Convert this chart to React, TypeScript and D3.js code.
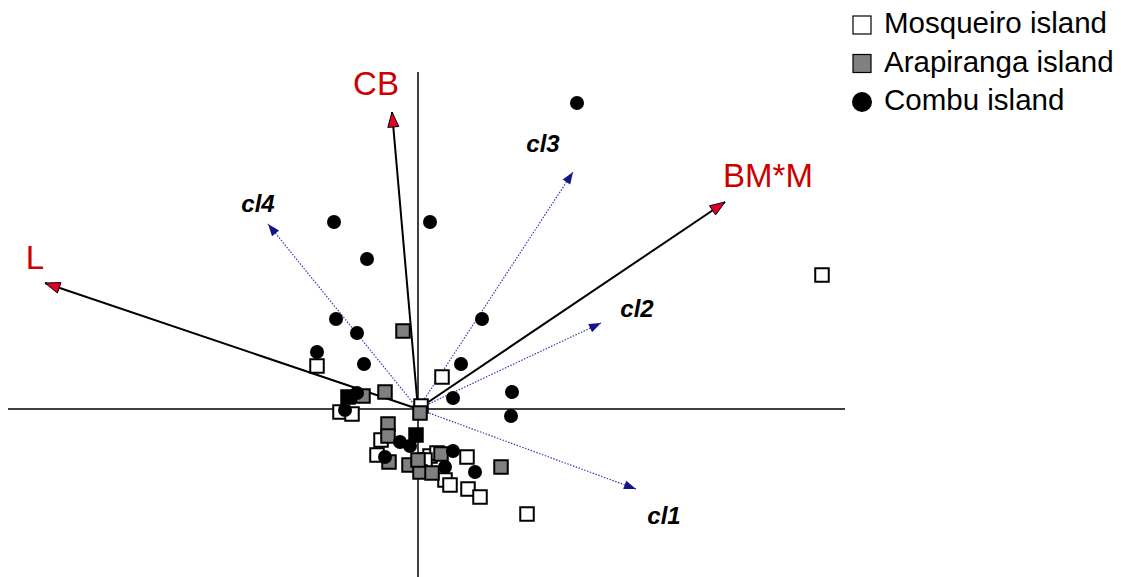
import * as d3 from 'd3';

// biplot scores (axis units)
const mosqueiroX = [4.04, -1.01, 0.24, -0.78, -0.66, -0.37, -0.41, 0.12, 0.19, 0.49, 0.27, 0.32, 0.50, 0.62, 1.09, 0.07, 0.03];
const mosqueiroY = [1.34, 0.43, 0.32, -0.03, -0.05, -0.31, -0.46, -0.47, -0.44, -0.48, -0.71, -0.76, -0.80, -0.88, -1.05, -0.51, 0.03];

const arapirangaX = [-0.15, -0.33, -0.55, 0.02, -0.30, -0.30, -0.29, -0.09, 0.02, 0.14, 0.00, 0.23, 0.83];
const arapirangaY = [0.78, 0.17, 0.13, -0.04, -0.15, -0.27, -0.53, -0.56, -0.63, -0.64, -0.51, -0.45, -0.58];

const combuX = [1.59, -0.84, 0.12, -0.51, -0.82, -0.61, 0.64, -1.01, -0.54, 0.43, 0.94, 0.35, 0.93, -0.61, -0.73, -0.18, -0.08, -0.33, 0.35, 0.27, 0.57];
const combuY = [3.06, 1.87, 1.87, 1.50, 0.90, 0.76, 0.90, 0.57, 0.45, 0.45, 0.17, 0.11, -0.07, 0.16, -0.01, -0.33, -0.37, -0.48, -0.42, -0.58, -0.63];

// overlapping points that show as solid black squares
const darkX = [-0.70, -0.02];
const darkY = [0.12, -0.26];

// environmental vectors
const varNames = ['CB', 'L', 'BM*M'];
const varX = [-0.26, -3.73, 3.07];
const varY = [2.97, 1.26, 2.07];

// class vectors
const clNames = ['cl1', 'cl2', 'cl3', 'cl4'];
const clX = [2.18, 1.83, 1.55, -1.50];
const clY = [-0.80, 0.86, 2.37, 1.85];

const legendNames = ['Mosqueiro island', 'Arapiranga island', 'Combu island'];

const W = 1121;
const H = 577;

const x = d3.scaleLinear().domain([-4.1, 4.27]).range([8, 845]);
const y = d3.scaleLinear().domain([-1.68, 3.37]).range([577, 72]);

const varLabelOffset: Record<string, [number, number]> = {
  'CB': [-16, -17],
  'L': [-10, -14],
  'BM*M': [43, -15],
};
const clLabelOffset: Record<string, [number, number]> = {
  cl1: [28, 35],
  cl2: [36, -6],
  cl3: [-30, -20],
  cl4: [-10, -12],
};

function head(x0: number, y0: number, x1: number, y1: number, len: number, half: number) {
  const a = Math.atan2(y1 - y0, x1 - x0);
  const bx = x1 - len * Math.cos(a);
  const by = y1 - len * Math.sin(a);
  const px = -Math.sin(a) * half;
  const py = Math.cos(a) * half;
  return `M${x1},${y1}L${bx + px},${by + py}L${bx - px},${by - py}Z`;
}

function Square({ cx, cy, fill }: { cx: number; cy: number; fill: string }) {
  const s = 13.5;
  return <rect x={cx - s / 2} y={cy - s / 2} width={s} height={s} fill={fill} stroke="#000" strokeWidth={2} />;
}

export default function App() {
  const ox = x(0);
  const oy = y(0);
  const font = '"Liberation Sans", Arial, Helvetica, sans-serif';

  return (
    <svg width={W} height={H} style={{ position: 'absolute', left: 0, top: 0, background: '#fff' }} fontFamily={font}>
      {/* axes */}
      <line x1={x(0)} x2={x(0)} y1={y.range()[1]} y2={y.range()[0]} stroke="#000" strokeWidth={1.5} />
      <line x1={x.range()[0]} x2={x.range()[1]} y1={y(0)} y2={y(0)} stroke="#000" strokeWidth={1.5} />

      {/* class vectors */}
      {clNames.map((n, i) => {
        const tx = x(clX[i]);
        const ty = y(clY[i]);
        const off = clLabelOffset[n];
        return (
          <g key={n}>
            <line x1={ox} y1={oy} x2={tx} y2={ty} stroke="#3a3ab0" strokeWidth={1.2} strokeDasharray="1.5,1.5" />
            <path d={head(ox, oy, tx, ty, 12, 4.5)} fill="#15158a" />
            <text x={tx + off[0]} y={ty + off[1]} textAnchor="middle" fontSize={24} fontWeight="bold" fontStyle="italic" fill="#000">{n}</text>
          </g>
        );
      })}

      {/* environmental vectors */}
      {varNames.map((n, i) => {
        const tx = x(varX[i]);
        const ty = y(varY[i]);
        const off = varLabelOffset[n];
        return (
          <g key={n}>
            <line x1={ox} y1={oy} x2={tx} y2={ty} stroke="#000" strokeWidth={2} />
            <path d={head(ox, oy, tx, ty, 15, 5.5)} fill="#e0002a" stroke="#000" strokeWidth={1} />
            <text x={tx + off[0]} y={ty + off[1]} textAnchor="middle" fontSize={33} fill="#cc0000">{n}</text>
          </g>
        );
      })}

      {/* points */}
      {mosqueiroX.map((v, i) => <Square key={'m' + i} cx={x(v)} cy={y(mosqueiroY[i])} fill="#fff" />)}
      {arapirangaX.map((v, i) => <Square key={'a' + i} cx={x(v)} cy={y(arapirangaY[i])} fill="#808080" />)}
      {combuX.map((v, i) => <circle key={'c' + i} cx={x(v)} cy={y(combuY[i])} r={7} fill="#000" />)}
      {darkX.map((v, i) => <Square key={'d' + i} cx={x(v)} cy={y(darkY[i])} fill="#000" />)}

      {/* legend */}
      {legendNames.map((n, i) => {
        const ly = 25 + i * 38.5;
        return (
          <g key={n}>
            {i === 2 ? (
              <circle cx={862} cy={ly} r={10} fill="#000" />
            ) : (
              <rect x={853} y={ly - 9} width={18} height={18} fill={i === 0 ? '#fff' : '#808080'} stroke="#000" strokeWidth={1.2} />
            )}
            <text x={884} y={ly + 8} fontSize={29.5} fill="#000">{n}</text>
          </g>
        );
      })}
    </svg>
  );
}
